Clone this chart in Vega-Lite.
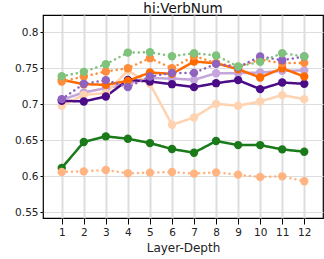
{
  "$schema": "https://vega.github.io/schema/vega-lite/v6.json",
  "autosize": "none",
  "width": 280,
  "height": 203,
  "padding": {"left": 43, "top": 15, "right": 1, "bottom": 41},
  "background": "white",
  "config": {
    "font": "DejaVu Sans",
    "view": {"stroke": "black", "strokeWidth": 1.2},
    "axis": {"domainColor": "black", "tickColor": "black", "gridColor": "#dddddd", "labelColor": "#222", "labelFontSize": 10.5, "titleFontSize": 12, "titleFontWeight": "normal", "titleColor": "#222"}
  },
  "title": {"text": "hi:VerbNum", "fontSize": 13.5, "fontWeight": "normal", "color": "#111", "offset": 1, "dy": 1, "anchor": "middle"},
  "data": {"values": [
    {"s":"H","layer":1,"v":0.7062},{"s":"H","layer":2,"v":0.7164},{"s":"H","layer":3,"v":0.7224},{"s":"H","layer":4,"v":0.7284},{"s":"H","layer":5,"v":0.7362},{"s":"H","layer":6,"v":0.7358},{"s":"H","layer":7,"v":0.7339},{"s":"H","layer":8,"v":0.7431},{"s":"H","layer":9,"v":0.7431},{"s":"H","layer":10,"v":0.7441},{"s":"H","layer":11,"v":0.7464},{"s":"H","layer":12,"v":0.7469},
    {"s":"I","layer":1,"v":0.6979},{"s":"I","layer":2,"v":0.7131},{"s":"I","layer":3,"v":0.7154},{"s":"I","layer":4,"v":0.7469},{"s":"I","layer":5,"v":0.7284},{"s":"I","layer":6,"v":0.6715},{"s":"I","layer":7,"v":0.6817},{"s":"I","layer":8,"v":0.7006},{"s":"I","layer":9,"v":0.6979},{"s":"I","layer":10,"v":0.7039},{"s":"I","layer":11,"v":0.7127},{"s":"I","layer":12,"v":0.7071},
    {"s":"G","layer":1,"v":0.7048},{"s":"G","layer":2,"v":0.7039},{"s":"G","layer":3,"v":0.7108},{"s":"G","layer":4,"v":0.7339},{"s":"G","layer":5,"v":0.7316},{"s":"G","layer":6,"v":0.7279},{"s":"G","layer":7,"v":0.7238},{"s":"G","layer":8,"v":0.7293},{"s":"G","layer":9,"v":0.7335},{"s":"G","layer":10,"v":0.7210},{"s":"G","layer":11,"v":0.7302},{"s":"G","layer":12,"v":0.7284},
    {"s":"A","layer":1,"v":0.6115},{"s":"A","layer":2,"v":0.6475},{"s":"A","layer":3,"v":0.6554},{"s":"A","layer":4,"v":0.6521},{"s":"A","layer":5,"v":0.6461},{"s":"A","layer":6,"v":0.6378},{"s":"A","layer":7,"v":0.6327},{"s":"A","layer":8,"v":0.6489},{"s":"A","layer":9,"v":0.6433},{"s":"A","layer":10,"v":0.6433},{"s":"A","layer":11,"v":0.6373},{"s":"A","layer":12,"v":0.6341},
    {"s":"B","layer":1,"v":0.6059},{"s":"B","layer":2,"v":0.6068},{"s":"B","layer":3,"v":0.6087},{"s":"B","layer":4,"v":0.6041},{"s":"B","layer":5,"v":0.6050},{"s":"B","layer":6,"v":0.6059},{"s":"B","layer":7,"v":0.6036},{"s":"B","layer":8,"v":0.6054},{"s":"B","layer":9,"v":0.6022},{"s":"B","layer":10,"v":0.5990},{"s":"B","layer":11,"v":0.5999},{"s":"B","layer":12,"v":0.5930},
    {"s":"E","layer":1,"v":0.7339},{"s":"E","layer":2,"v":0.7279},{"s":"E","layer":3,"v":0.7270},{"s":"E","layer":4,"v":0.7325},{"s":"E","layer":5,"v":0.7441},{"s":"E","layer":6,"v":0.7422},{"s":"E","layer":7,"v":0.7593},{"s":"E","layer":8,"v":0.7570},{"s":"E","layer":9,"v":0.7487},{"s":"E","layer":10,"v":0.7372},{"s":"E","layer":11,"v":0.7500},{"s":"E","layer":12,"v":0.7385},
    {"s":"D","layer":1,"v":0.7316},{"s":"D","layer":2,"v":0.7385},{"s":"D","layer":3,"v":0.7455},{"s":"D","layer":4,"v":0.7501},{"s":"D","layer":5,"v":0.7640},{"s":"D","layer":6,"v":0.7501},{"s":"D","layer":7,"v":0.7672},{"s":"D","layer":8,"v":0.7570},{"s":"D","layer":9,"v":0.7520},{"s":"D","layer":10,"v":0.7620},{"s":"D","layer":11,"v":0.7570},{"s":"D","layer":12,"v":0.7575},
    {"s":"F","layer":1,"v":0.7071},{"s":"F","layer":2,"v":0.7284},{"s":"F","layer":3,"v":0.7335},{"s":"F","layer":4,"v":0.7238},{"s":"F","layer":5,"v":0.7385},{"s":"F","layer":6,"v":0.7436},{"s":"F","layer":7,"v":0.7436},{"s":"F","layer":8,"v":0.7561},{"s":"F","layer":9,"v":0.7515},{"s":"F","layer":10,"v":0.7663},{"s":"F","layer":11,"v":0.7612},{"s":"F","layer":12,"v":0.7663},
    {"s":"C","layer":1,"v":0.7390},{"s":"C","layer":2,"v":0.7450},{"s":"C","layer":3,"v":0.7556},{"s":"C","layer":4,"v":0.7718},{"s":"C","layer":5,"v":0.7723},{"s":"C","layer":6,"v":0.7667},{"s":"C","layer":7,"v":0.7709},{"s":"C","layer":8,"v":0.7677},{"s":"C","layer":9,"v":0.7524},{"s":"C","layer":10,"v":0.7589},{"s":"C","layer":11,"v":0.7709},{"s":"C","layer":12,"v":0.7663}
  ]},
  "encoding": {
    "x": {"field": "layer", "type": "quantitative", "scale": {"domain": [0.15, 12.85], "nice": false, "zero": false},
      "axis": {"title": "Layer-Depth", "values": [1,2,3,4,5,6,7,8,9,10,11,12], "format": "d", "grid": true, "gridWidth": 2, "domain": false, "tickSize": 6, "labelPadding": 3, "titlePadding": 5}},
    "y": {"field": "v", "type": "quantitative", "scale": {"domain": [0.542, 0.824], "nice": false, "zero": false},
      "axis": {"title": null, "values": [0.55,0.6,0.65,0.7,0.75,0.8], "format": "~g", "grid": true, "gridWidth": 1, "domain": false, "tickSize": 3, "labelPadding": 2}},
    "color": {"field": "s", "type": "nominal", "legend": null,
      "scale": {"domain": ["A","B","C","D","E","F","G","H","I"],
        "range": ["#1a7a1a","#ffb482","#7fc27b","#ff8c3a","#ff6a00","#8f62c0","#4b0c88","#c4a6dc","#ffd2b0"]}}
  },
  "layer": [
    {"mark": {"type": "line", "strokeWidth": 2.5, "strokeCap": "round"},
     "encoding": {"strokeDash": {"field": "s", "type": "nominal", "legend": null,
       "scale": {"domain": ["A","B","C","D","E","F","G","H","I"],
         "range": [[1,0],[0.1,5],[0.1,5],[0.1,5],[1,0],[0.1,5],[1,0],[1,0],[1,0]]}}}},
    {"mark": {"type": "circle", "size": 70, "opacity": 1}}
  ]
}
